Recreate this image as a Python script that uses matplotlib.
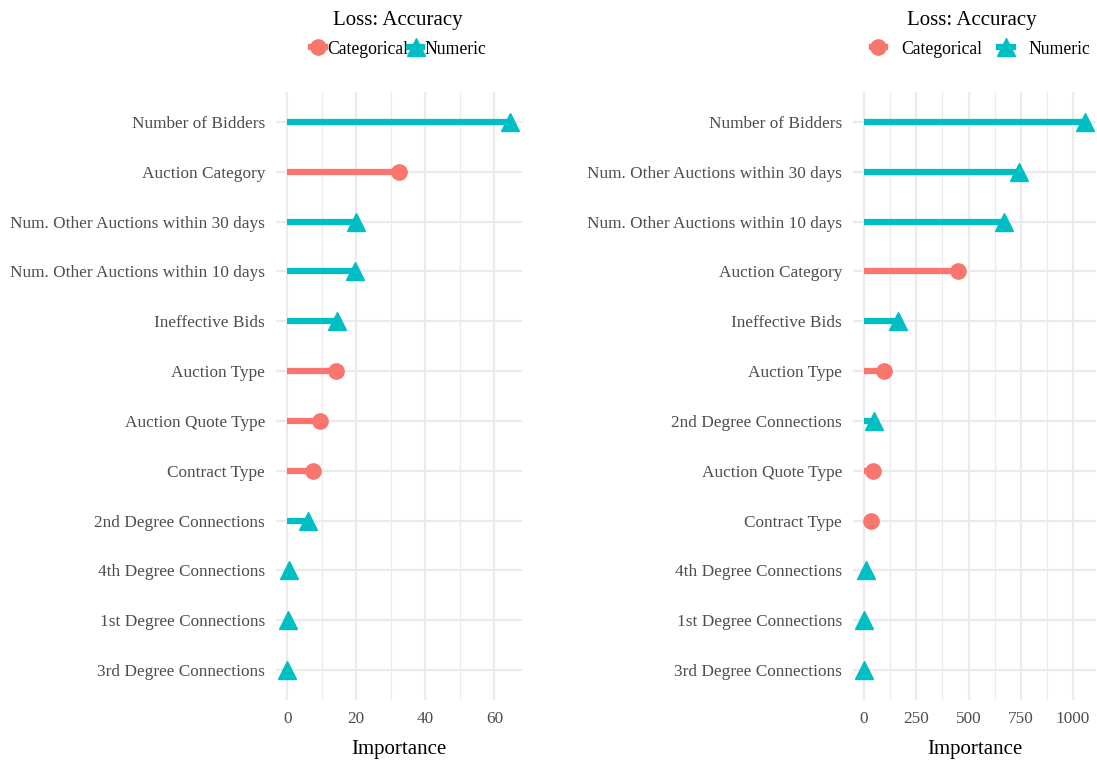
import matplotlib
matplotlib.use("Agg")
import matplotlib.pyplot as plt
from matplotlib.lines import Line2D
from matplotlib.ticker import MultipleLocator

plt.rcParams['font.family'] = ['Liberation Serif', 'DejaVu Serif']

CAT_COLOR = "#F8766D"
NUM_COLOR = "#00BFC4"

# Left panel (top to bottom)
left_features = ["Number of Bidders", "Auction Category", "Num. Other Auctions within 30 days",
                 "Num. Other Auctions within 10 days", "Ineffective Bids", "Auction Type",
                 "Auction Quote Type", "Contract Type", "2nd Degree Connections",
                 "4th Degree Connections", "1st Degree Connections", "3rd Degree Connections"]
left_values = [64.5, 32.3, 19.8, 19.5, 14.5, 14.0, 9.6, 7.6, 6.1, 0.6, 0.3, 0.0]
left_types = ["Numeric", "Categorical", "Numeric", "Numeric", "Numeric", "Categorical",
              "Categorical", "Categorical", "Numeric", "Numeric", "Numeric", "Numeric"]

# Right panel (top to bottom)
right_features = ["Number of Bidders", "Num. Other Auctions within 30 days",
                  "Num. Other Auctions within 10 days", "Auction Category", "Ineffective Bids",
                  "Auction Type", "2nd Degree Connections", "Auction Quote Type", "Contract Type",
                  "4th Degree Connections", "1st Degree Connections", "3rd Degree Connections"]
right_values = [1057, 741, 670, 450, 163, 96, 48, 43, 33, 10, 2, 0]
right_types = ["Numeric", "Numeric", "Numeric", "Categorical", "Numeric", "Categorical",
               "Numeric", "Categorical", "Categorical", "Numeric", "Numeric", "Numeric"]

W, H = 1097, 761
fig = plt.figure(figsize=(W / 100, H / 100), dpi=100)


def px_axes(x0, y0, x1, y1):
    return fig.add_axes([x0 / W, 1 - y1 / H, (x1 - x0) / W, (y1 - y0) / H])


def draw_panel(ax, feats, vals, types, major, minor, xlim):
    n = len(feats)
    ys = list(range(n - 1, -1, -1))
    for y, v, t in zip(ys, vals, types):
        c = CAT_COLOR if t == "Categorical" else NUM_COLOR
        ax.plot([0, v], [y, y], color=c, lw=4.5, solid_capstyle="butt", zorder=3)
        mk = "o" if t == "Categorical" else "^"
        ms = 11 if t == "Categorical" else 13
        ax.plot(v, y, marker=mk, color=c, ms=ms, mec=c, zorder=4, clip_on=False)
    ax.set_yticks(ys)
    ax.set_yticklabels(feats)
    ax.set_ylim(-0.6, n - 1 + 0.6)
    ax.set_xlim(*xlim)
    ax.xaxis.set_major_locator(MultipleLocator(major))
    ax.xaxis.set_minor_locator(MultipleLocator(minor))
    ax.grid(True, which="major", color="#EBEBEB", lw=1.6, zorder=0)
    ax.grid(True, which="minor", axis="x", color="#EBEBEB", lw=0.9, zorder=0)
    ax.set_axisbelow(True)
    for s in ax.spines.values():
        s.set_visible(False)
    ax.tick_params(which="both", length=0)
    ax.tick_params(labelsize=12.45, labelcolor="#4D4D4D", pad=8)
    ax.set_xlabel("Importance", fontsize=15, labelpad=9)


axL = px_axes(276, 92, 522, 700)
draw_panel(axL, left_features, left_values, left_types, 20, 10, (-3.25, 68))
axR = px_axes(853, 92, 1096, 700)
draw_panel(axR, right_features, right_values, right_types, 250, 125, (-53, 1110))

fig.text(398 / W, 1 - 20 / H, "Loss: Accuracy", ha="center", va="center", fontsize=15)
fig.text(972 / W, 1 - 20 / H, "Loss: Accuracy", ha="center", va="center", fontsize=15)

handles = [Line2D([0], [0], color=CAT_COLOR, marker="o", ms=11, lw=4.5),
           Line2D([0], [0], color=NUM_COLOR, marker="^", ms=13, lw=4.5)]
labels = ["Categorical", "Numeric"]

legL = fig.legend(handles, labels, loc="center", bbox_to_anchor=(399 / W, 1 - 49 / H),
                  ncol=2, frameon=False, fontsize=12.7, handlelength=0.75,
                  handletextpad=0.15, columnspacing=0.05, borderpad=0)
legR = fig.legend(handles, labels, loc="center", bbox_to_anchor=(981 / W, 1 - 49 / H),
                  ncol=2, frameon=False, fontsize=12.7, handlelength=0.75,
                  handletextpad=0.9, columnspacing=1.0, borderpad=0)

fig.savefig("out.png", dpi=100)
